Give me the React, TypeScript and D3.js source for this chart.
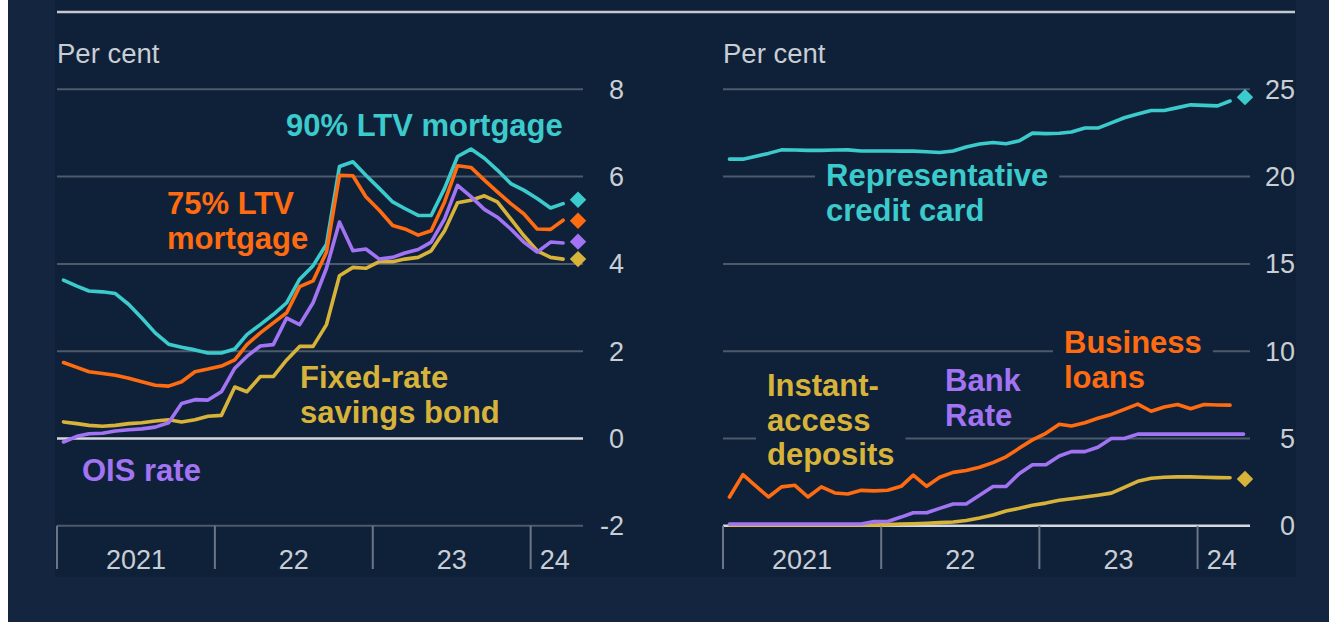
import React, { useEffect, useRef } from "react";
import * as d3 from "d3";

// ---------- DATA (monthly, Jan 2021 onwards) ----------
const startYear = 2021;
const yearLabels = ["2021", "22", "23", "24"];
const leftTicks = [8, 6, 4, 2, 0, -2];
const rightTicks = [25, 20, 15, 10, 5, 0];

// Left panel: household rates
const mortgage90 = [3.63, 3.49, 3.38, 3.36, 3.32, 3.07, 2.76, 2.42, 2.16, 2.09, 2.03, 1.96, 1.96, 2.05, 2.38, 2.61, 2.84, 3.11, 3.65, 3.96, 4.45, 6.23, 6.34, 6.03, 5.73, 5.42, 5.27, 5.11, 5.11, 5.73, 6.46, 6.63, 6.42, 6.15, 5.84, 5.69, 5.5, 5.28, 5.38];
const mortgage75 = [1.74, 1.63, 1.53, 1.49, 1.45, 1.38, 1.3, 1.22, 1.2, 1.3, 1.53, 1.59, 1.66, 1.8, 2.15, 2.42, 2.65, 2.88, 3.48, 3.61, 4.27, 6.03, 6.02, 5.54, 5.23, 4.88, 4.8, 4.66, 4.76, 5.42, 6.25, 6.21, 5.92, 5.65, 5.38, 5.15, 4.8, 4.79, 5.0];
const oisRate = [-0.08, 0.05, 0.11, 0.12, 0.17, 0.2, 0.22, 0.26, 0.36, 0.8, 0.89, 0.88, 1.07, 1.61, 1.88, 2.12, 2.15, 2.76, 2.61, 3.11, 3.9, 4.96, 4.3, 4.34, 4.11, 4.15, 4.25, 4.33, 4.5, 5.03, 5.8, 5.54, 5.25, 5.07, 4.8, 4.5, 4.27, 4.5, 4.48];
const savingsBond = [0.38, 0.34, 0.3, 0.28, 0.3, 0.34, 0.36, 0.4, 0.43, 0.38, 0.43, 0.51, 0.53, 1.18, 1.07, 1.42, 1.42, 1.8, 2.11, 2.11, 2.61, 3.73, 3.92, 3.9, 4.05, 4.05, 4.11, 4.15, 4.3, 4.76, 5.4, 5.46, 5.56, 5.42, 5.03, 4.65, 4.3, 4.15, 4.11];
// Latest (diamond) values, April 2024
const leftLatest = [5.47, 4.99, 4.51, 4.11]; // 90% LTV, 75% LTV, OIS, savings bond

// Right panel
const creditCard = [21.0, 21.0, 21.15, 21.33, 21.53, 21.52, 21.5, 21.5, 21.52, 21.53, 21.47, 21.47, 21.47, 21.46, 21.46, 21.42, 21.38, 21.47, 21.7, 21.87, 21.95, 21.88, 22.05, 22.49, 22.46, 22.48, 22.55, 22.78, 22.78, 23.08, 23.37, 23.58, 23.79, 23.79, 23.95, 24.11, 24.08, 24.05, 24.33];
const businessLoans = [1.65, 2.93, 2.32, 1.65, 2.23, 2.32, 1.65, 2.23, 1.88, 1.82, 2.03, 2.0, 2.04, 2.26, 2.9, 2.26, 2.78, 3.06, 3.17, 3.35, 3.62, 3.95, 4.45, 4.92, 5.3, 5.82, 5.72, 5.9, 6.16, 6.38, 6.67, 6.97, 6.56, 6.8, 6.95, 6.7, 6.95, 6.92, 6.91];
const bankRate = [0.1, 0.1, 0.1, 0.1, 0.1, 0.1, 0.1, 0.1, 0.1, 0.1, 0.1, 0.25, 0.25, 0.5, 0.75, 0.75, 1.0, 1.25, 1.25, 1.75, 2.25, 2.25, 3.0, 3.5, 3.5, 4.0, 4.25, 4.25, 4.5, 5.0, 5.0, 5.25, 5.25, 5.25, 5.25, 5.25, 5.25, 5.25, 5.25, 5.25];
const instantAccess = [0.05, 0.05, 0.05, 0.05, 0.05, 0.05, 0.05, 0.05, 0.05, 0.05, 0.05, 0.05, 0.07, 0.1, 0.12, 0.15, 0.18, 0.22, 0.3, 0.45, 0.62, 0.85, 1.0, 1.18, 1.3, 1.46, 1.55, 1.65, 1.75, 1.87, 2.2, 2.55, 2.72, 2.78, 2.8, 2.8, 2.78, 2.76, 2.75];
const creditCardLatest = 24.55;
const instantAccessLatest = 2.68;

// ---------- STYLE ----------
const W = 1329;
const H = 622;
const CYAN = "#3ccbcc";
const ORANGE = "#ff6b10";
const PURPLE = "#a274f4";
const GOLD = "#d8b33a";
const TEXT = "#c9ced5";
const GRID = "#4d5a6b";
const ZERO = "#d6d9dd";
const INNER = "#0f2139";
const OUTER = "#13253f";
const FONT = "'Liberation Sans', Arial, Helvetica, sans-serif";

const monthDate = (i: number) => new Date(startYear, i, 16);

export default function App() {
  const ref = useRef<SVGSVGElement>(null);

  useEffect(() => {
    const svg = d3.select(ref.current);
    svg.selectAll("*").remove();

    svg.append("rect").attr("x", 0).attr("y", 0).attr("width", W).attr("height", H).attr("fill", "#ffffff");
    svg.append("rect").attr("x", 8).attr("y", 0).attr("width", W - 8).attr("height", H).attr("fill", OUTER);
    svg.append("rect").attr("x", 55).attr("y", 0).attr("width", 1241).attr("height", 577).attr("fill", INNER);

    // top rule
    svg.append("line").attr("x1", 57).attr("x2", 1295).attr("y1", 12).attr("y2", 12)
      .attr("stroke", "#c5c9ce").attr("stroke-width", 2.5);

    const yTop = 89.3;
    const yBot = 525.8;

    type Series = { values: number[]; color: string; latest?: number };
    type Label = { lines: string[]; x: number; y: number; color: string; box?: boolean };
    type Panel = {
      x0: number; x1: number; domain: [number, number]; ticks: number[]; labelX: number;
      zero: number; axisVal: number; series: Series[]; labels: Label[];
    };

    const panels: Panel[] = [
      {
        x0: 57, x1: 583, domain: [-2, 8], ticks: leftTicks, labelX: 624, zero: 0, axisVal: -2,
        series: [
          { values: mortgage90, color: CYAN, latest: leftLatest[0] },
          { values: mortgage75, color: ORANGE, latest: leftLatest[1] },
          { values: savingsBond, color: GOLD, latest: leftLatest[3] },
          { values: oisRate, color: PURPLE, latest: leftLatest[2] },
        ],
        labels: [
          { lines: ["90% LTV mortgage"], x: 286, y: 136, color: CYAN },
          { lines: ["75% LTV", "mortgage"], x: 167, y: 214, color: ORANGE },
          { lines: ["Fixed-rate", "savings bond"], x: 300, y: 388, color: GOLD },
          { lines: ["OIS rate"], x: 82, y: 481, color: PURPLE },
        ],
      },
      {
        x0: 723, x1: 1250, domain: [0, 25], ticks: rightTicks, labelX: 1295, zero: 0, axisVal: 0,
        series: [
          { values: creditCard, color: CYAN, latest: creditCardLatest },
          { values: instantAccess, color: GOLD, latest: instantAccessLatest },
          { values: bankRate, color: PURPLE },
          { values: businessLoans, color: ORANGE },
        ],
        labels: [
          { lines: ["Representative", "credit card"], x: 826, y: 186, color: CYAN, box: true },
          { lines: ["Instant-", "access", "deposits"], x: 767, y: 396, color: GOLD, box: true },
          { lines: ["Bank", "Rate"], x: 945, y: 391, color: PURPLE },
          { lines: ["Business", "loans"], x: 1064, y: 353, color: ORANGE, box: true },
        ],
      },
    ];

    panels.forEach((p) => {
      const x = d3.scaleTime()
        .domain([new Date(startYear, 0, 1), new Date(2024, 4, 1)])
        .range([p.x0, p.x1]);
      const y = d3.scaleLinear().domain(p.domain).range([yBot, yTop]);
      const g = svg.append("g");

      // "Per cent"
      g.append("text").attr("x", p.x0).attr("y", 63).attr("fill", TEXT)
        .attr("font-family", FONT).attr("font-size", 27.5).text("Per cent");

      // gridlines
      p.ticks.forEach((t) => {
        const isZero = t === p.zero;
        g.append("line").attr("x1", p.x0).attr("x2", p.x1).attr("y1", y(t)).attr("y2", y(t))
          .attr("stroke", isZero ? ZERO : GRID).attr("stroke-width", isZero ? 2.6 : 2);
        g.append("text").attr("x", p.labelX).attr("y", y(t) + 9.5).attr("text-anchor", "end")
          .attr("fill", TEXT).attr("font-family", FONT).attr("font-size", 27).text(String(t));
      });

      // year ticks
      const years = d3.timeYear.range(new Date(startYear, 0, 1), new Date(2024, 0, 2));
      years.forEach((d, k) => {
        const xx = x(d);
        g.append("line").attr("x1", xx).attr("x2", xx).attr("y1", y(p.axisVal)).attr("y2", 569)
          .attr("stroke", "#6a7685").attr("stroke-width", 2);
        const next = k < years.length - 1 ? x(years[k + 1]) : p.x1;
        g.append("text").attr("x", (xx + next) / 2 + (k === years.length - 1 ? -2 : 0)).attr("y", 569)
          .attr("text-anchor", "middle").attr("fill", TEXT).attr("font-family", FONT)
          .attr("font-size", 27).text(yearLabels[k]);
      });

      // label boxes + texts
      const labelLayer = svg.append("g");
      const lineLayer = svg.append("g");
      const textLayer = svg.append("g");

      p.labels.forEach((lb) => {
        const tg = textLayer.append("g");
        lb.lines.forEach((ln, j) => {
          tg.append("text").attr("x", lb.x).attr("y", lb.y + j * 34.5).attr("fill", lb.color)
            .attr("font-family", FONT).attr("font-size", 31).attr("font-weight", "bold").text(ln);
        });
        if (lb.box) {
          const bb = (tg.node() as SVGGElement).getBBox();
          labelLayer.append("rect").attr("x", bb.x - 11).attr("y", bb.y - 2)
            .attr("width", bb.width + 22).attr("height", bb.height + 4).attr("fill", INNER);
        }
      });

      const line = d3.line<number>()
        .x((_, i) => x(monthDate(i)))
        .y((v) => y(v))
        .curve(d3.curveLinear);

      p.series.forEach((s) => {
        lineLayer.append("path").attr("d", line(s.values) || "").attr("fill", "none")
          .attr("stroke", s.color).attr("stroke-width", 3.6)
          .attr("stroke-linejoin", "round").attr("stroke-linecap", "round");
        if (s.latest !== undefined) {
          const sym = d3.symbol().type(d3.symbolSquare).size(135);
          lineLayer.append("path").attr("d", sym() || "")
            .attr("transform", `translate(${x(monthDate(39)) + 1.5},${y(s.latest)}) rotate(45)`)
            .attr("fill", s.color);
        }
      });
    });
  }, []);

  return (
    <svg
      ref={ref}
      width={W}
      height={H}
      style={{ position: "absolute", left: 0, top: 0, display: "block" }}
    />
  );
}
